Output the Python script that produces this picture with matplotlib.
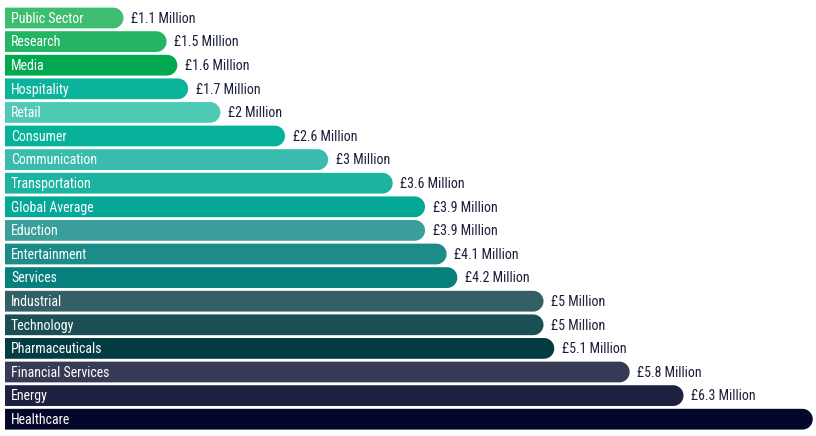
import matplotlib
matplotlib.use("Agg")
import numpy as np
import matplotlib.pyplot as plt
from matplotlib.patches import Polygon
from matplotlib import font_manager

sectors = ['Public Sector', 'Research', 'Media', 'Hospitality', 'Retail', 'Consumer',
           'Communication', 'Transportation', 'Global Average', 'Eduction', 'Entertainment',
           'Services', 'Industrial', 'Technology', 'Pharmaceuticals', 'Financial Services',
           'Energy', 'Healthcare']
costs = [1.1, 1.5, 1.6, 1.7, 2.0, 2.6, 3.0, 3.6, 3.9, 3.9, 4.1, 4.2, 5.0, 5.0, 5.1, 5.8, 6.3, 7.5]
# the healthcare value label falls off the right edge in the original, so none is shown
labels = ['£1.1 Million', '£1.5 Million', '£1.6 Million', '£1.7 Million', '£2 Million',
          '£2.6 Million', '£3 Million', '£3.6 Million', '£3.9 Million', '£3.9 Million',
          '£4.1 Million', '£4.2 Million', '£5 Million', '£5 Million', '£5.1 Million',
          '£5.8 Million', '£6.3 Million', '']
colors = ['#3dbd6f', '#23b563', '#01a84f', '#0bb39b', '#4fcab6', '#06b39a',
          '#39bbae', '#1db3a1', '#03a996', '#3a9f9a', '#1c8c88', '#067f7d',
          '#335f66', '#1b4e55', '#033c41', '#363a55', '#1e203f', '#03072a']

# pick a narrow font if we have one
installed = {f.name for f in font_manager.fontManager.ttflist}
family = 'DejaVu Sans'
for cand in ['Roboto Condensed', 'Liberation Sans Narrow', 'Open Sans Condensed', 'Roboto']:
    if cand in installed:
        family = cand
        break
font = font_manager.FontProperties(family=[family, 'DejaVu Sans'], stretch='condensed', size=10)

W, H = 816, 436
px_per_x = 107.7   # pixels per million
px_per_y = 23.6    # pixels per row
x0_px, y0_px = 5, 18

fig = plt.figure(figsize=(W / 100, H / 100), dpi=100)
ax = fig.add_axes([0, 0, 1, 1])
ax.set_xlim(-x0_px / px_per_x, (W - x0_px) / px_per_x)
ax.set_ylim((H - y0_px) / px_per_y, -y0_px / px_per_y)
ax.axis('off')

bar_h = 0.88
rx = bar_h / 2 * px_per_y / px_per_x   # horizontal radius of the round end in data units
t = np.linspace(-np.pi / 2, np.pi / 2, 40)

for i, (name, val, lab, c) in enumerate(zip(sectors, costs, labels, colors)):
    arc = np.column_stack([val - rx + rx * np.cos(t), i + bar_h / 2 * np.sin(t)])
    pts = np.vstack([[0, i - bar_h / 2], arc, [0, i + bar_h / 2]])
    ax.add_patch(Polygon(pts, closed=True, fc=c, ec='none'))
    ax.text(0.055, i + 0.03, name, color='white', va='center', ha='left',
            fontproperties=font)
    if lab:
        ax.text(val + 0.07, i + 0.03, lab, color='#1a1e3a', va='center', ha='left',
                fontproperties=font)

fig.savefig('out.png', dpi=100, facecolor='white')
